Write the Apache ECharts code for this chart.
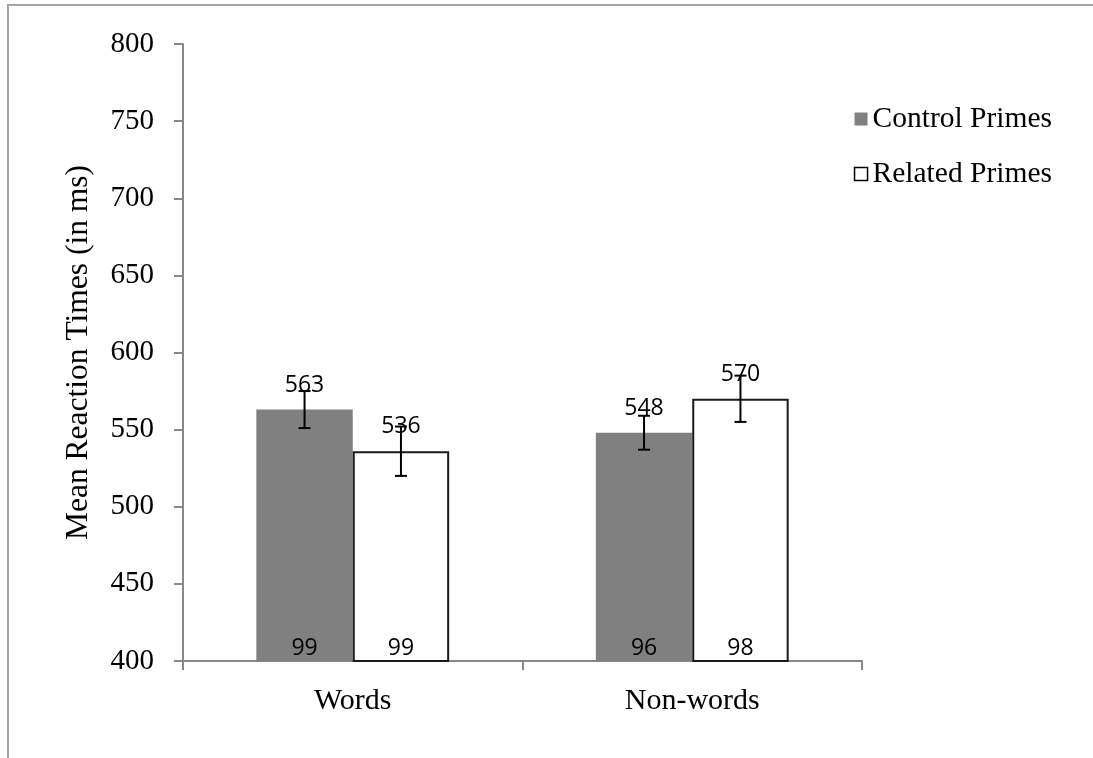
<!DOCTYPE html>
<html>
<head>
<meta charset="utf-8">
<script src="https://cdn.jsdelivr.net/npm/echarts@6/dist/echarts.min.js"></script>
<style>
html,body{margin:0;padding:0;background:#fff;}
#c{width:1093px;height:758px;}
</style>
</head>
<body>
<div id="c"></div>
<script>
const categories = ['Words', 'Non-words'];
const seriesNames = ['Control Primes', 'Related Primes'];
const controlRT = [563, 548];
const relatedRT = [536, 570];
const controlErr = [12, 11];
const relatedErr = [16, 15];
const controlAcc = [99, 96];
const relatedAcc = [99, 98];
const yTicks = [400, 450, 500, 550, 600, 650, 700, 750, 800];

const BAR_FRAC = 0.284;
const serif = '"Liberation Serif", "Times New Roman", serif';
const sans = '"Open Sans", "Noto Sans", sans-serif';

const chart = echarts.init(document.getElementById('c'));

function makeOverlay(values, errs, accs, side) {
  return {
    type: 'custom',
    silent: true,
    z: 10,
    data: values.map((v, i) => [i, v, errs[i], accs[i]]),
    renderItem: function (params, api) {
      const i = api.value(0);
      const v = api.value(1);
      const e = api.value(2);
      const acc = api.value(3);
      const band = api.size([1, 0])[0];
      const bw = band * BAR_FRAC;
      const c = api.coord([i, v]);
      const x = c[0] + side * bw / 2;
      const hi = api.coord([i, v + e])[1];
      const lo = api.coord([i, v - e])[1];
      const base = api.coord([i, 400])[1];
      const cap = 6;
      const st = { stroke: '#000', lineWidth: 2 };
      return {
        type: 'group',
        children: [
          { type: 'line', shape: { x1: x, y1: hi, x2: x, y2: lo }, style: st },
          { type: 'line', shape: { x1: x - cap, y1: hi, x2: x + cap, y2: hi }, style: st },
          { type: 'line', shape: { x1: x - cap, y1: lo, x2: x + cap, y2: lo }, style: st },
          { type: 'text', style: { text: String(acc), x: x, y: base - 1, textAlign: 'center', textVerticalAlign: 'bottom', font: '23px ' + sans, fill: '#000' } }
        ]
      };
    }
  };
}

const option = {
  animation: false,
  backgroundColor: '#fff',
  graphic: [{
    type: 'rect',
    shape: { x: 8, y: 5, width: 1300, height: 900 },
    style: { fill: 'none', stroke: '#a6a6a6', lineWidth: 2 },
    silent: true,
    z: -1
  }],
  grid: { left: 183, right: 231, top: 44, bottom: 97 },
  legend: {
    orient: 'vertical',
    right: 36,
    top: 99,
    itemWidth: 13,
    itemHeight: 13,
    itemGap: 25,
    textStyle: { fontFamily: serif, fontSize: 29.5, color: '#000' },
    data: [
      { name: seriesNames[0], icon: 'rect', itemStyle: { color: '#808080', borderWidth: 0 } },
      { name: seriesNames[1], icon: 'rect', itemStyle: { color: '#fff', borderColor: '#000', borderWidth: 1.5 } }
    ]
  },
  xAxis: {
    type: 'category',
    data: categories,
    axisLine: { lineStyle: { color: '#888', width: 2 } },
    axisTick: { show: true, length: 9, lineStyle: { color: '#888', width: 2 } },
    axisLabel: { fontFamily: serif, fontSize: 30, color: '#000', margin: 25 }
  },
  yAxis: {
    type: 'value',
    min: 400,
    max: 800,
    interval: 50,
    name: 'Mean Reaction Times (in ms)',
    nameLocation: 'middle',
    nameGap: 88,
    nameTextStyle: { fontFamily: serif, fontSize: 31.5, color: '#000' },
    axisLine: { show: true, lineStyle: { color: '#888', width: 2 } },
    axisTick: { show: true, length: 9, lineStyle: { color: '#888', width: 2 } },
    splitLine: { show: false },
    axisLabel: {
      fontFamily: serif, fontSize: 29, color: '#000', margin: 29,
      formatter: function (v) { return yTicks.indexOf(v) >= 0 ? String(v) : ''; }
    }
  },
  series: [
    {
      name: seriesNames[0],
      type: 'bar',
      data: controlRT,
      barWidth: (BAR_FRAC * 100) + '%',
      barGap: '0%',
      itemStyle: { color: '#808080' },
      label: { show: true, position: 'top', distance: 13, fontFamily: sans, fontSize: 23, color: '#000' }
    },
    {
      name: seriesNames[1],
      type: 'bar',
      data: relatedRT,
      barWidth: (BAR_FRAC * 100) + '%',
      barGap: '0%',
      itemStyle: { color: '#fff', borderColor: '#1a1a1a', borderWidth: 2 },
      label: { show: true, position: 'top', distance: 13, fontFamily: sans, fontSize: 23, color: '#000' }
    },
    makeOverlay(controlRT, controlErr, controlAcc, -1),
    makeOverlay(relatedRT, relatedErr, relatedAcc, 1)
  ]
};
chart.setOption(option);
</script>
</body>
</html>
